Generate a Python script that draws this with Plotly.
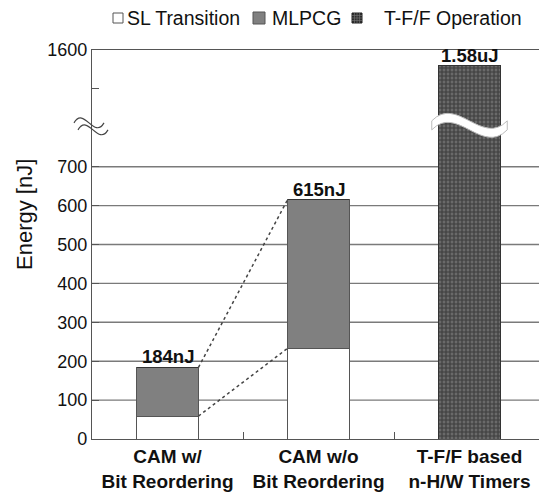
import plotly.graph_objects as go

categories = ["CAM w/<br>Bit Reordering", "CAM w/o<br>Bit Reordering", "T-F/F based<br>n-H/W Timers"]
sl_transition = [59, 233, 0]
mlpcg = [125, 382, 0]
tff_operation = [0, 0, 1580]
total_labels = ["184nJ", "615nJ", "1.58uJ"]
series_names = ["SL Transition", "MLPCG", "T-F/F Operation"]
tick_values = [0, 100, 200, 300, 400, 500, 600, 700, 1600]
tick_labels = ["0", "100", "200", "300", "400", "500", "600", "700", "1600"]

# broken axis: lower segment 0..700 linear, upper segment shows values near 1600
BREAK_LOW = 700
UPPER_TOP = 1600
DISPLAY_TOP = 1000
UPPER_SCALE = 2.0
BREAK_DISPLAY = 805


def pos(v):
    if v <= BREAK_LOW:
        return v
    return DISPLAY_TOP - (UPPER_TOP - v) * UPPER_SCALE


FONT = "Liberation Sans, Arial, sans-serif"
EDGE = "#555555"
PXW, PXH = 453.0, 389.0   # plot area size in px
REF_L, REF_T = 92, 50      # plot area origin in the page
BODY = 8                   # default page body margin

fig = go.Figure()
fig.add_trace(go.Bar(x=categories, y=[pos(v) for v in sl_transition], name=series_names[0],
                     marker=dict(color="white", line=dict(color=EDGE, width=1))))
fig.add_trace(go.Bar(x=categories, y=[pos(v) for v in mlpcg], name=series_names[1],
                     marker=dict(color="#808080", line=dict(color=EDGE, width=1))))
fig.add_trace(go.Bar(x=categories, y=[pos(v) for v in tff_operation], name=series_names[2],
                     marker=dict(color="#555555", line=dict(color="#333", width=1),
                                 pattern=dict(shape="+", fgcolor="#101010", bgcolor="#6a6a6a",
                                              size=4, solidity=0.5))))

# totals labels
for i, cat in enumerate(categories):
    tot = sl_transition[i] + mlpcg[i] + tff_operation[i]
    fig.add_annotation(x=cat, y=pos(tot), text="<b>%s</b>" % total_labels[i], showarrow=False,
                       yanchor="bottom", yshift=-2, font=dict(size=18.5, color="#111", family=FONT))

# grid lines for lower segment
for v in tick_values:
    if 0 < v <= BREAK_LOW:
        fig.add_shape(type="line", xref="paper", yref="y", x0=0, x1=1, y0=pos(v), y1=pos(v),
                      line=dict(color="#7a7a7a", width=1.4), layer="below")

# dotted connectors between bar 1 and bar 2
half = 0.41 / 2
c1 = sl_transition[0]
c2 = sl_transition[1]
t1 = sl_transition[0] + mlpcg[0]
t2 = sl_transition[1] + mlpcg[1]
for a, b in [(c1, c2), (t1, t2)]:
    fig.add_shape(type="line", xref="x", yref="y", x0=0 + half, x1=1 - half, y0=pos(a), y1=pos(b),
                  line=dict(color="#444", width=1.5, dash="dot"))


def px_x(p):
    return (p - REF_L) / PXW


def px_y(p):
    return (REF_T + PXH - p) / PXH


def wave(x0, x1, yc, amp, thick=None):
    w = x1 - x0
    s = f"M {x0},{yc} C {x0 + w/3},{yc + amp} {x0 + 2*w/3},{yc - amp} {x1},{yc}"
    if thick is None:
        return s
    return s + (f" L {x1},{yc - thick} C {x0 + 2*w/3},{yc - amp - thick} "
                f"{x0 + w/3},{yc + amp - thick} {x0},{yc - thick} Z")


yb = BREAK_DISPLAY / DISPLAY_TOP
# band across bar 3
bx0 = (2 + 0.5 - 0.25) / 3
bx1 = (2 + 0.5 + 0.25) / 3
fig.add_shape(type="path", xref="paper", yref="paper",
              path=wave(bx0, bx1, yb + 5 / PXH, 26 / PXH, 9 / PXH),
              fillcolor="white", line=dict(color="#bbbbbb", width=1))
# left axis squiggle
for dx, dy in [(-1, 3), (3, -4)]:
    fig.add_shape(type="path", xref="paper", yref="paper",
                  path=wave((-17 + dx) / PXW, (13 + dx) / PXW, yb + dy / PXH, 17 / PXH),
                  line=dict(color="#444", width=1.2))

# y-axis title (placed like the original, above the plot centre)
fig.add_annotation(xref="paper", yref="paper", x=px_x(24), y=px_y(215), text="Energy [nJ]",
                   textangle=-90, showarrow=False, xanchor="center", yanchor="middle",
                   font=dict(size=22, family=FONT, color="#111"))

# legend (drawn manually to match the compact original layout)
ly = px_y(18)
legend_items = [
    (113, 10, 125, "white", EDGE),
    (253, 12, 270, "#808080", EDGE),
    (352, 10, 382, "#2e2e2e", "#222"),
]
for (bx, box, tx, fc, lc), name in zip(legend_items, series_names):
    fig.add_shape(type="rect", xref="paper", yref="paper",
                  x0=px_x(bx), x1=px_x(bx + box),
                  y0=ly - box / 2 / PXH, y1=ly + box / 2 / PXH,
                  fillcolor=fc, line=dict(color=lc, width=1))
    fig.add_annotation(xref="paper", yref="paper", x=px_x(tx), y=ly, text=name, showarrow=False,
                       xanchor="left", yanchor="middle", font=dict(size=19.5, family=FONT, color="#111"))
# grid inside the T-F/F legend box
gx, gb = legend_items[2][0], legend_items[2][1]
for k in (1, 2, 3):
    fig.add_shape(type="line", xref="paper", yref="paper",
                  x0=px_x(gx + k * gb / 4), x1=px_x(gx + k * gb / 4),
                  y0=ly - gb / 2 / PXH, y1=ly + gb / 2 / PXH, line=dict(color="#777", width=0.6))
    fig.add_shape(type="line", xref="paper", yref="paper",
                  x0=px_x(gx), x1=px_x(gx + gb),
                  y0=ly - gb / 2 / PXH + k * gb / 4 / PXH, y1=ly - gb / 2 / PXH + k * gb / 4 / PXH,
                  line=dict(color="#777", width=0.6))

W, H = 547 - BODY, 496 - BODY
fig.update_layout(
    width=W, height=H,
    margin=dict(l=REF_L - BODY, r=W - (REF_L - BODY) - PXW, t=REF_T - BODY,
                b=H - (REF_T - BODY) - PXH, autoexpand=False),
    barmode="stack", bargap=0.59,
    plot_bgcolor="white", paper_bgcolor="white",
    font=dict(family=FONT, size=18, color="#111"),
    showlegend=False,
)
fig.update_xaxes(type="category", range=[-0.5, 2.5], showline=True, linecolor=EDGE, linewidth=1.3,
                 mirror=True, ticks="inside", tickson="boundaries", ticklen=7, tickcolor=EDGE,
                 tickfont=dict(size=19, family=FONT, weight="bold"), showgrid=False)
fig.update_yaxes(range=[0, DISPLAY_TOP], showline=True, linecolor=EDGE, linewidth=1.3, mirror=True,
                 tickvals=[pos(v) for v in tick_values] + [900], ticktext=tick_labels + [""],
                 ticks="inside", ticklen=7, tickcolor=EDGE, showgrid=False, zeroline=False,
                 tickfont=dict(size=18, family=FONT))

fig.write_html("out.html")
